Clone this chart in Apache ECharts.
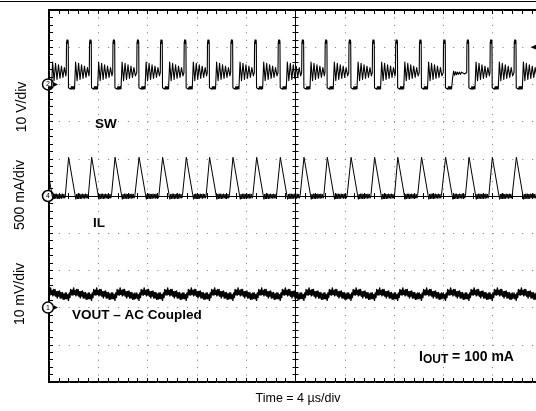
<!DOCTYPE html>
<html>
<head>
<meta charset="utf-8">
<script src="https://cdn.jsdelivr.net/npm/echarts@6/dist/echarts.min.js"></script>
<style>
    html, body { margin: 0; padding: 0; background: #fff; }
    #main { width: 536px; height: 411px; }
</style>
</head>
<body>
<div id="main"></div>
<script type="text/javascript">
    // rising edges of SW, in µs (0 = centre of the screen)
    var swEdges = [-20.47, -18.60, -16.73, -14.83, -12.88, -10.97, -9.05, -7.16, -5.26, -3.34, -1.42,
        0.50, 2.39, 4.32, 6.23, 8.11, 10.04, 11.99, 13.89, 15.78, 17.73, 19.63];
    // the one period where the ringing almost died out
    var quietEdge = 11.99;

    // one switching period of SW: [µs after the edge, volts]
    var swPeriod = [
        [0.00, 3.2], [0.02, 11.2], [0.06, 12.0], [0.10, 11.0], [0.14, 11.9], [0.16, 11.3], [0.18, -0.9],
        [0.22, -0.5], [0.27, -1.3], [0.32, -0.6], [0.37, -1.3], [0.42, -0.6], [0.47, -1.3], [0.52, -0.6],
        [0.57, -1.3], [0.62, -0.6], [0.67, -1.2], [0.72, -0.8],
        [0.76, 6.0], [0.88, 1.0], [1.00, 5.7], [1.12, 1.3], [1.24, 5.3], [1.36, 1.6], [1.48, 4.9],
        [1.60, 1.9], [1.72, 4.5], [1.84, 2.3]
    ];
    var swQuietPeriod = [
        [0.00, 3.2], [0.02, 11.2], [0.06, 12.0], [0.10, 11.0], [0.14, 11.9], [0.16, 11.3], [0.18, -0.9],
        [0.22, -0.5], [0.27, -1.3], [0.32, -0.6], [0.37, -1.3], [0.42, -0.6], [0.47, -1.3], [0.52, -0.6],
        [0.57, -1.3], [0.62, -0.6], [0.67, -1.2], [0.72, -0.8],
        [0.76, 1.8], [0.84, 3.6], [0.92, 2.4], [1.00, 3.4], [1.08, 2.6], [1.16, 3.3], [1.24, 2.7],
        [1.32, 3.3], [1.40, 2.7], [1.48, 3.3], [1.56, 2.8], [1.64, 3.2], [1.72, 2.8], [1.80, 3.2], [1.86, 2.9]
    ];
    // inductor current over one period: [µs after the SW edge, mA]
    var ilPeriod = [
        [-0.08, 0], [0.19, 520], [0.73, 0], [0.78, -45], [0.84, 25], [0.90, -40], [0.96, 30], [1.02, -35],
        [1.08, 30], [1.14, -40], [1.20, 25], [1.26, -35], [1.32, 30], [1.38, -30], [1.44, 25], [1.50, -35],
        [1.56, 30], [1.62, -30], [1.68, 25], [1.74, -30], [1.80, 10]
    ];
    // output ripple (AC coupled) over one period, noise included: [µs after the SW edge, mV]
    var voutPeriod = [
        [0.00, 3.95], [0.06, 2.4], [0.12, 3.45], [0.18, 1.95], [0.24, 3.95], [0.30, 2.7], [0.36, 4.85],
        [0.42, 3.45], [0.48, 4.7], [0.54, 3.35], [0.60, 5.3], [0.66, 3.55], [0.72, 4.6], [0.78, 3.15],
        [0.84, 4.85], [0.90, 3.4], [0.96, 4.85], [1.02, 3.05], [1.08, 4.3], [1.14, 2.6], [1.20, 4.35],
        [1.26, 3.1], [1.32, 4.5], [1.38, 2.55], [1.44, 4.0], [1.50, 2.6], [1.56, 4.05], [1.62, 2.2],
        [1.68, 3.65], [1.74, 2.3], [1.80, 3.95], [1.86, 2.45]
    ];

    // scope channel settings: ground position (div from centre) and units per div
    var swOffset = 3, swPerDiv = 10;      // V
    var ilOffset = 0, ilPerDiv = 500;     // mA
    var voutOffset = -3, voutPerDiv = 10; // mV

    function buildTrace(pickShape, offset, perDiv) {
        var pts = [];
        for (var i = 0; i < swEdges.length; i++) {
            var t0 = swEdges[i];
            var shape = pickShape(t0);
            var next = i + 1 < swEdges.length ? swEdges[i + 1] + shape[0][0] : Infinity;
            for (var j = 0; j < shape.length; j++) {
                var t = t0 + shape[j][0];
                if (t < next) {
                    pts.push([t, offset + shape[j][1] / perDiv]);
                }
            }
        }
        return pts;
    }

    var swData = buildTrace(function (t0) {
        return t0 === quietEdge ? swQuietPeriod : swPeriod;
    }, swOffset, swPerDiv);
    var ilData = buildTrace(function () { return ilPeriod; }, ilOffset, ilPerDiv);
    var voutData = buildTrace(function () { return voutPeriod; }, voutOffset, voutPerDiv);

    var myChart = echarts.init(document.getElementById('main'));
    var font = '"Liberation Sans", Arial, Helvetica, sans-serif';

    function xAxisOf(pos, opts) {
        return Object.assign({
            type: 'value', min: -20, max: 20, interval: 4, position: pos,
            axisLabel: {show: false},
            axisLine: {show: false, onZero: false},
            axisTick: {show: true, inside: true, length: 4, lineStyle: {color: '#000', width: 1}},
            minorTick: {show: true, splitNumber: 5, length: 4, lineStyle: {color: '#000', width: 1}},
            splitLine: {show: false}
        }, opts);
    }

    function yAxisOf(pos, opts) {
        return Object.assign({
            type: 'value', min: -5, max: 5, interval: 1, position: pos,
            axisLabel: {show: false},
            axisLine: {show: false, onZero: false},
            axisTick: {show: true, inside: true, length: 4, lineStyle: {color: '#000', width: 1}},
            minorTick: {show: true, splitNumber: 5, length: 4, lineStyle: {color: '#000', width: 1}},
            splitLine: {show: false}
        }, opts);
    }

    var crossLine = {show: true, onZero: true, onZeroAxisIndex: 0, lineStyle: {color: '#000', width: 1}};

    function channelMark(num, level) {
        return [
            {
                coord: [-20, level], symbol: 'circle', symbolSize: 11, symbolOffset: [-1, 0],
                itemStyle: {color: '#fff', borderColor: '#000', borderWidth: 1.5},
                label: {show: true, formatter: num, fontSize: 7, color: '#000', fontFamily: font}
            },
            {
                coord: [-20, level], symbol: 'path://M0,0L8,4L0,8Z', symbolSize: [4, 4], symbolOffset: [7, 0],
                itemStyle: {color: '#000'}, label: {show: false}
            }
        ];
    }

    function trace(data, width, marks) {
        return {
            type: 'line', data: data, xAxisIndex: 0, yAxisIndex: 0,
            showSymbol: false, symbol: 'none', silent: true, clip: true, z: 5,
            lineStyle: {color: '#000', width: width, join: 'round'},
            markPoint: {silent: true, data: marks}
        };
    }

    var boldText = 'bold 13.5px ' + font;

    var option = {
        animation: false,
        backgroundColor: '#fff',
        grid: {
            left: 49, top: 10, width: 493, height: 372,
            show: true, borderColor: '#000', borderWidth: 2, backgroundColor: 'transparent',
            outerBoundsMode: 'none'
        },
        xAxis: [
            xAxisOf('bottom', {splitLine: {show: true, lineStyle: {color: '#777', width: 1, type: [1, 6.44]}}}),
            xAxisOf('top', {}),
            xAxisOf('bottom', {axisLine: crossLine, axisTick: {show: true, inside: true, length: 3, lineStyle: {color: '#000'}},
                minorTick: {show: true, splitNumber: 5, length: 3, lineStyle: {color: '#000'}}}),
            xAxisOf('bottom', {axisLine: crossLine, axisTick: {show: true, inside: false, length: 3, lineStyle: {color: '#000'}},
                minorTick: {show: true, splitNumber: 5, length: 3, lineStyle: {color: '#000'}}}),
            // rule above the screen, continues the page border line
            xAxisOf('top', {offset: 8.5, axisLine: {show: true, onZero: false, lineStyle: {color: '#000', width: 1.2}},
                axisTick: {show: false}, minorTick: {show: false}})
        ],
        yAxis: [
            yAxisOf('left', {splitLine: {show: true, lineStyle: {color: '#777', width: 1, type: [1, 8.86]}}}),
            yAxisOf('left', {axisLine: crossLine, axisTick: {show: true, inside: true, length: 3, lineStyle: {color: '#000'}},
                minorTick: {show: true, splitNumber: 5, length: 3, lineStyle: {color: '#000'}}}),
            yAxisOf('left', {axisLine: crossLine, axisTick: {show: true, inside: false, length: 3, lineStyle: {color: '#000'}},
                minorTick: {show: true, splitNumber: 5, length: 3, lineStyle: {color: '#000'}}})
        ],
        series: [
            trace(swData, 1.1, channelMark('2', swOffset).concat([{
                coord: [20, 4], symbol: 'path://M8,0L0,4L8,8Z', symbolSize: [7, 6], symbolOffset: [-8, 0],
                itemStyle: {color: '#000'}, label: {show: false}
            }])),
            trace(ilData, 1, channelMark('4', ilOffset)),
            trace(voutData, 1.4, channelMark('1', voutOffset))
        ],
        graphic: [
            {type: 'line', z: 100, shape: {x1: 0, y1: 1.5, x2: 536, y2: 1.5}, style: {stroke: '#000', lineWidth: 1.2}},
            {type: 'text', x: 95, y: 124, style: {text: 'SW', font: boldText, fill: '#000',
                textVerticalAlign: 'middle', verticalAlign: 'middle'}},
            {type: 'text', x: 93, y: 223, style: {text: 'IL', font: boldText, fill: '#000',
                textVerticalAlign: 'middle', verticalAlign: 'middle'}},
            {type: 'text', x: 72, y: 315, style: {text: 'VOUT \u2013 AC Coupled', font: boldText, fill: '#000',
                textVerticalAlign: 'middle', verticalAlign: 'middle'}},
            {type: 'text', x: 419, y: 357, style: {
                text: '{a|I}{b|OUT}{a| = 100 mA}', fill: '#000',
                textVerticalAlign: 'middle', verticalAlign: 'middle',
                rich: {
                    a: {fontSize: 14, fontWeight: 'bold', fontFamily: font},
                    b: {fontSize: 12, fontWeight: 'bold', fontFamily: font, padding: [5, 0, 0, 0]}
                }
            }},
            {type: 'text', x: 22, y: 107, rotation: Math.PI / 2, style: {text: '10 V/div', font: '14px ' + font, fill: '#000',
                textAlign: 'center', align: 'center', textVerticalAlign: 'middle', verticalAlign: 'middle'}},
            {type: 'text', x: 20, y: 195, rotation: Math.PI / 2, style: {text: '500 mA/div', font: '14px ' + font, fill: '#000',
                textAlign: 'center', align: 'center', textVerticalAlign: 'middle', verticalAlign: 'middle'}},
            {type: 'text', x: 20, y: 294, rotation: Math.PI / 2, style: {text: '10 mV/div', font: '14px ' + font, fill: '#000',
                textAlign: 'center', align: 'center', textVerticalAlign: 'middle', verticalAlign: 'middle'}},
            {type: 'text', x: 298, y: 399, style: {text: 'Time = 4 \u00b5s/div', font: '12.5px ' + font, fill: '#000',
                textAlign: 'center', align: 'center', textVerticalAlign: 'middle', verticalAlign: 'middle'}}
        ]
    };

    myChart.setOption(option);
</script>
</body>
</html>
